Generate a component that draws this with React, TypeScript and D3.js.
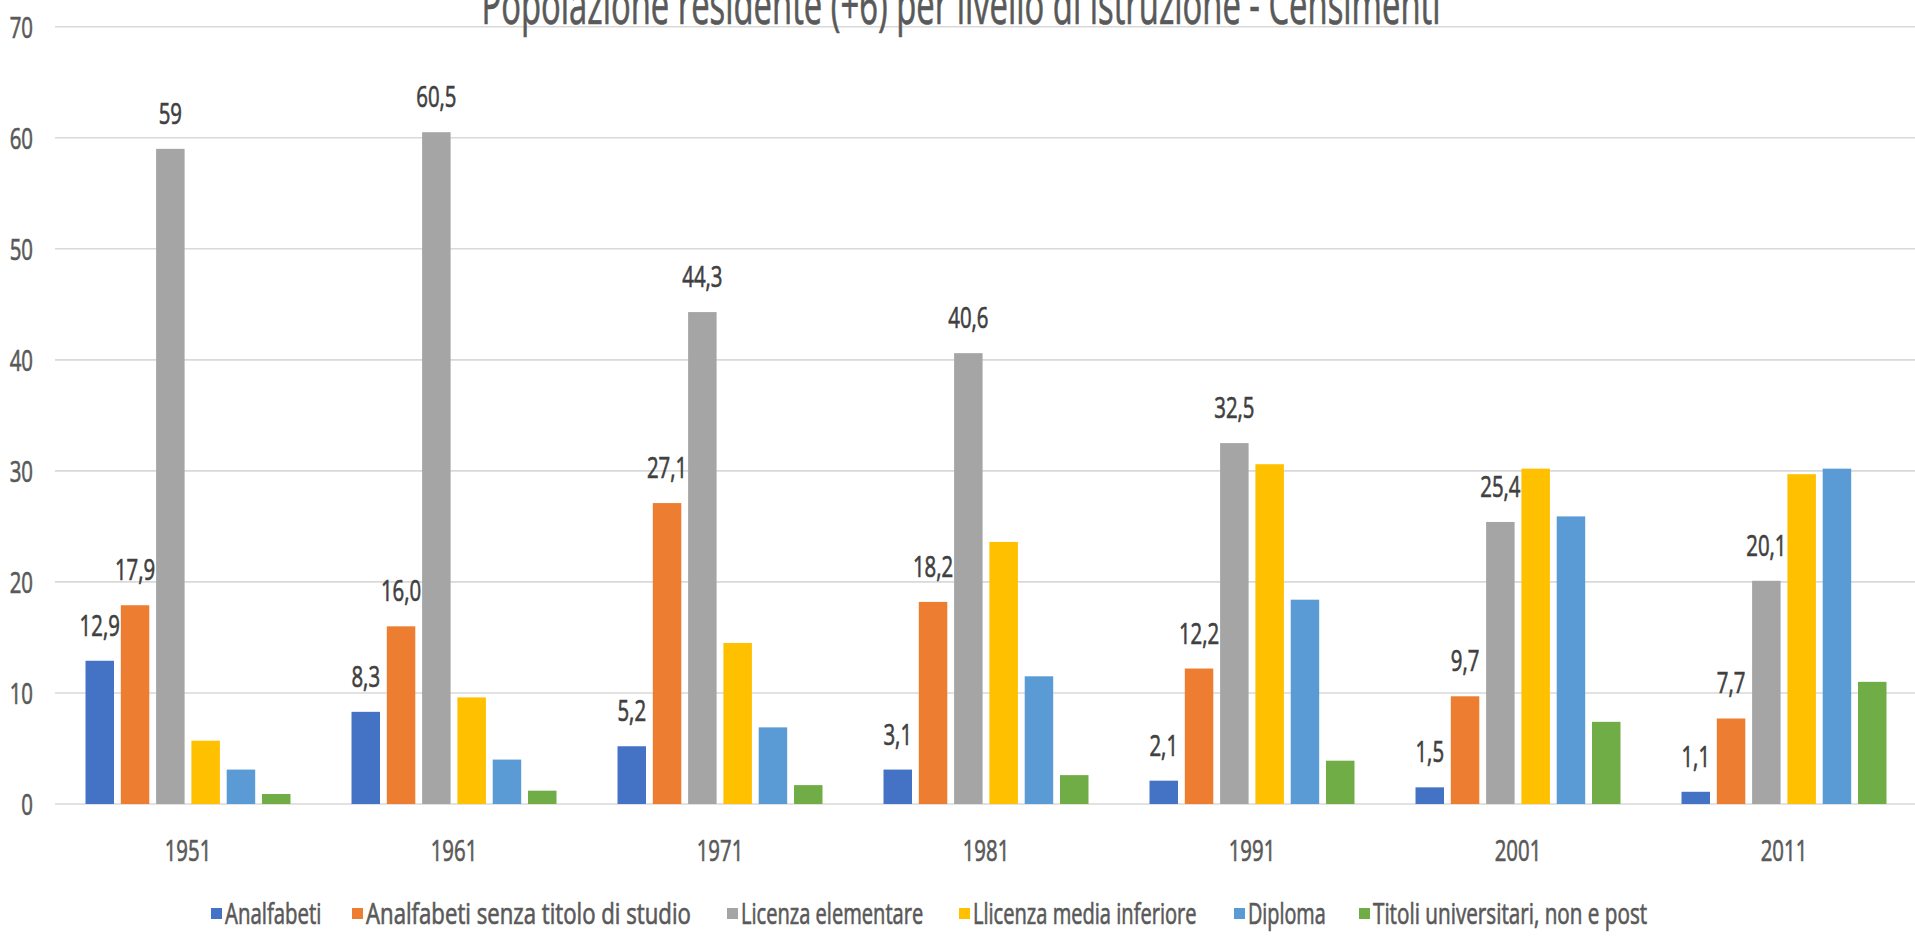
import React from "react";
import * as d3 from "d3";

const years = ["1951", "1961", "1971", "1981", "1991", "2001", "2011"];
const seriesNames = [
  "Analfabeti",
  "Analfabeti senza titolo di studio",
  "Licenza elementare",
  "Llicenza media inferiore",
  "Diploma",
  "Titoli universitari, non e post",
];
const analfabeti = [12.9, 8.3, 5.2, 3.1, 2.1, 1.5, 1.1];
const senzaTitolo = [17.9, 16.0, 27.1, 18.2, 12.2, 9.7, 7.7];
const elementare = [59, 60.5, 44.3, 40.6, 32.5, 25.4, 20.1];
const mediaInferiore = [5.7, 9.6, 14.5, 23.6, 30.6, 30.2, 29.7];
const diploma = [3.1, 4.0, 6.9, 11.5, 18.4, 25.9, 30.2];
const universitari = [0.9, 1.2, 1.7, 2.6, 3.9, 7.4, 11.0];
const labelsAnalfabeti = ["12,9", "8,3", "5,2", "3,1", "2,1", "1,5", "1,1"];
const labelsSenzaTitolo = ["17,9", "16,0", "27,1", "18,2", "12,2", "9,7", "7,7"];
const labelsElementare = ["59", "60,5", "44,3", "40,6", "32,5", "25,4", "20,1"];
const yTicks = [0, 10, 20, 30, 40, 50, 60, 70];
const colors = ["#4472C4", "#ED7D31", "#A5A5A5", "#FFC000", "#5B9BD5", "#70AD47"];
const title = "Popolazione residente (+6) per livello di istruzione - Censimenti";

const allSeries = [analfabeti, senzaTitolo, elementare, mediaInferiore, diploma, universitari];
const allLabels = [labelsAnalfabeti, labelsSenzaTitolo, labelsElementare, null, null, null];

const W = 1915;
const H = 950;
const FONT = "'Open Sans', sans-serif";
const SX = 0.68;

export default function App() {
  const x0 = d3.scaleBand<string>().domain(years).range([55, 1917]).paddingInner(0).paddingOuter(0);
  const slot = 35.3;
  const x1 = d3
    .scaleBand<string>()
    .domain(seriesNames)
    .range([-3 * slot, 3 * slot])
    .paddingInner(0.193)
    .paddingOuter(0.0965);
  const y = d3.scaleLinear().domain([0, 70]).range([804, 26.7]);

  const legendX = [211, 352, 727, 959, 1234, 1359];
  const legendSX = [0.68, 0.74, 0.67, 0.67, 0.66, 0.69];
  const legendY = 914;

  const txt = (x: number, yy: number, s: string, opts: any = {}) => {
    const fill = opts.fill ?? "#595959";
    return (
      <text
        transform={`translate(${x},${yy}) scale(${opts.sx ?? SX},1)`}
        fontFamily={FONT}
        fontSize={opts.size ?? 30}
        fill={fill}
        stroke={fill}
        strokeWidth={0.7}
        textAnchor={opts.anchor ?? "middle"}
      >
        {s}
      </text>
    );
  };

  return (
    <svg
      width={W}
      height={H}
      style={{ position: "absolute", left: 0, top: 0, background: "#fff" }}
    >
      <rect x={0} y={0} width={W} height={H} fill="#fff" />
      {yTicks.map((t) => (
        <line
          key={t}
          x1={55}
          x2={W}
          y1={y(t)}
          y2={y(t)}
          stroke="#d9d9d9"
          strokeWidth={1.6}
        />
      ))}
      {yTicks.map((t) => (
        <g key={"yl" + t}>{txt(33, y(t) + 11, String(t), { anchor: "end" })}</g>
      ))}
      <text
        x={961}
        y={24}
        fontFamily={FONT}
        fontSize={54}
        fill="#595959"
        stroke="#595959"
        strokeWidth={0.7}
        textAnchor="middle"
        textLength={959}
        lengthAdjust="spacingAndGlyphs"
      >
        {title}
      </text>
      {years.map((yr, i) => (
        <g key={yr} transform={`translate(${(x0(yr) ?? 0) + x0.bandwidth() / 2},0)`}>
          {seriesNames.map((s, j) => {
            const v = allSeries[j][i];
            return (
              <rect
                key={s}
                x={x1(s)}
                y={y(v)}
                width={x1.bandwidth()}
                height={y(0) - y(v)}
                fill={colors[j]}
              />
            );
          })}
          {seriesNames.map((s, j) => {
            const labs = allLabels[j];
            if (!labs) return null;
            const v = allSeries[j][i];
            return (
              <g key={"l" + s}>
                {txt((x1(s) ?? 0) + x1.bandwidth() / 2, y(v) - 25, labs[i], { fill: "#404040" })}
              </g>
            );
          })}
        </g>
      ))}
      {years.map((yr) => (
        <g key={"xl" + yr}>{txt((x0(yr) ?? 0) + x0.bandwidth() / 2, 861, yr)}</g>
      ))}
      {seriesNames.map((s, j) => (
        <g key={"lg" + s}>
          <rect x={legendX[j]} y={legendY - 6} width={11} height={11} fill={colors[j]} />
          {txt(legendX[j] + 14, legendY + 10, s, { anchor: "start", sx: legendSX[j] })}
        </g>
      ))}
    </svg>
  );
}
